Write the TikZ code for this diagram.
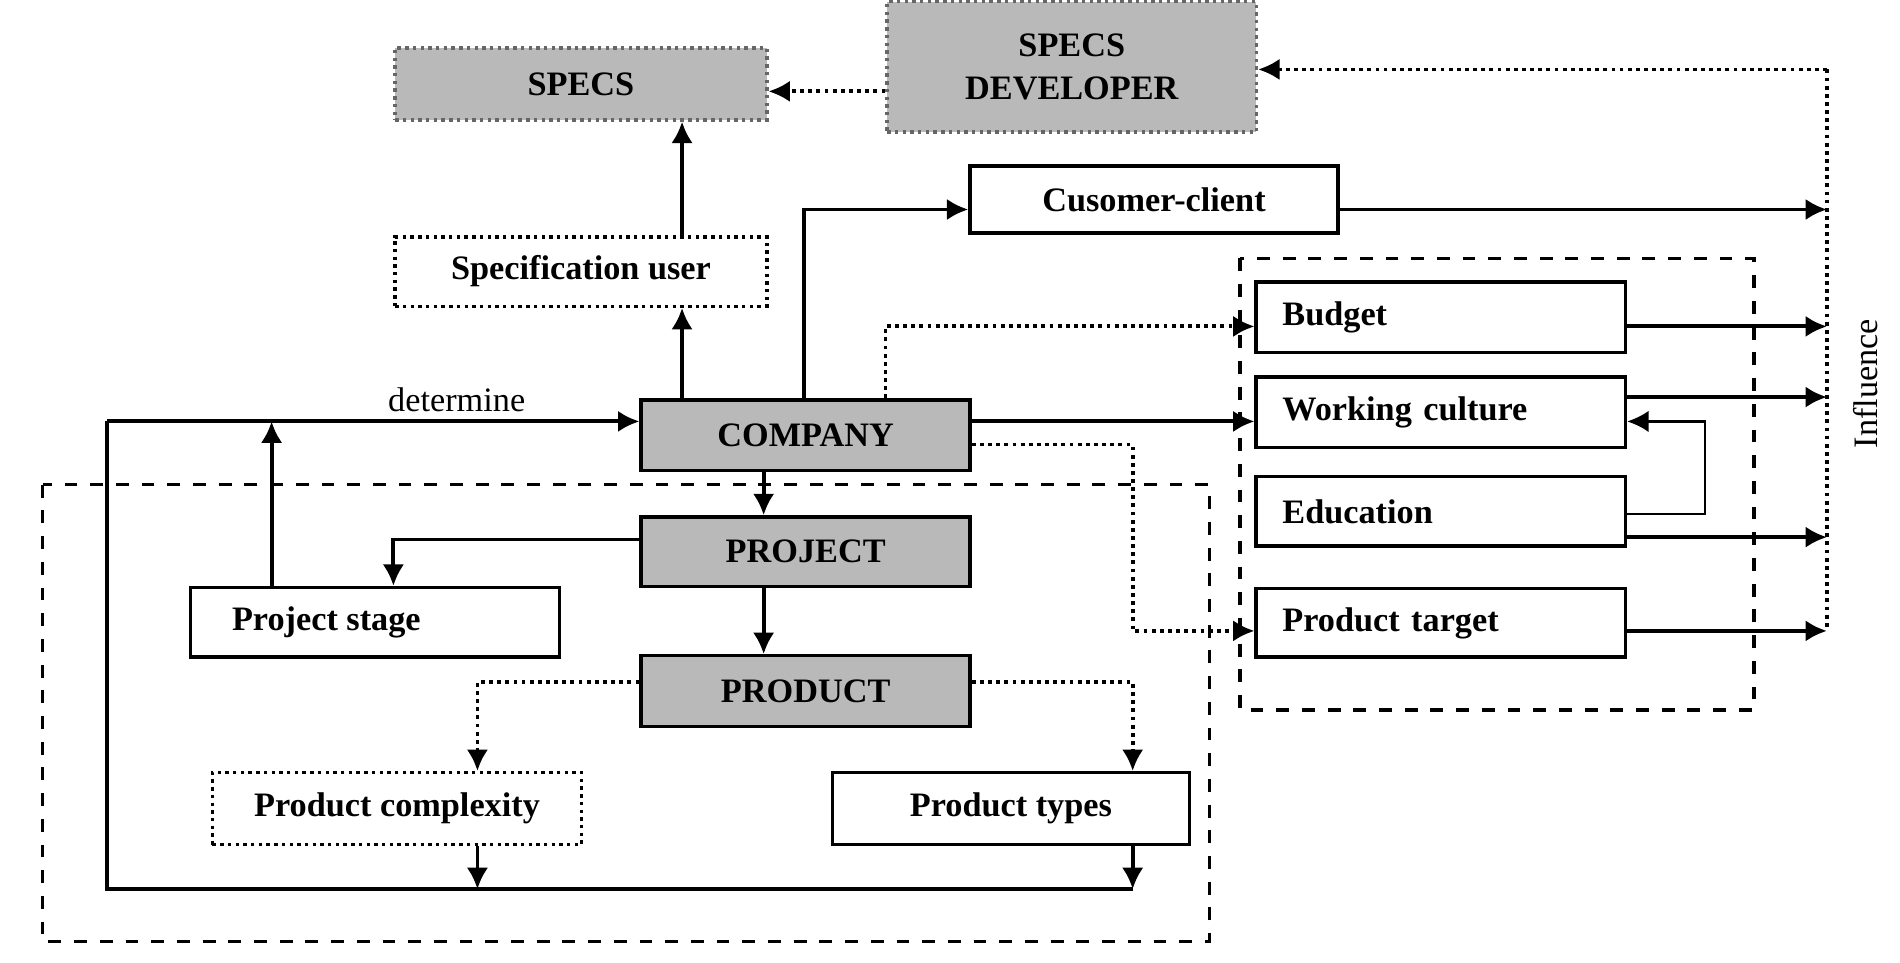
\documentclass[tikz,border=0pt]{standalone}
\usepackage{fontspec}
\setmainfont{Liberation Serif}
\usetikzlibrary{arrows.meta}
\begin{document}
\begin{tikzpicture}
            [x=0.01cm,y=-0.01cm,
             box/.style={draw,shape=rectangle,thick,inner sep=0,anchor=north west,font=\fontsize{8}{10}\selectfont\bfseries},
             grey/.style={box,fill=gray!55,draw=gray!80!black,densely dotted},
             every path/.style={line width=0.9pt,black},
             arr/.style={-{Latex[length=5pt,width=5pt]}}]

            \useasboundingbox (0,0) rectangle (1560,790);

            % frames
            \draw[dashed,thick] (35,398) rectangle (993,773);
            \draw[dashed,thick] (1018,212) rectangle (1440,583);

            \node[grey,minimum width=3.05cm,minimum height=0.59cm] (specs) at (323,38) {SPECS};
            \node[grey,minimum width=3.03cm,minimum height=1.07cm,align=center] (dev) at (727,0) {SPECS\\DEVELOPER};
            \node[box,densely dotted,minimum width=3.05cm,minimum height=0.57cm] (user) at (323,193) {Specification user};
            \node[box,minimum width=3.02cm,minimum height=0.55cm] (client) at (795,135) {Cusomer-client};
            \node[grey,solid,draw=black,minimum width=2.7cm,minimum height=0.58cm] (company) at (525,327) {COMPANY};
            \node[grey,solid,draw=black,minimum width=2.7cm,minimum height=0.57cm] (project) at (525,423) {PROJECT};
            \node[grey,solid,draw=black,minimum width=2.7cm,minimum height=0.58cm] (product) at (525,537) {PRODUCT};
            \node[box,minimum width=3.03cm,minimum height=0.57cm] (stage) at (155,481) {\hspace*{-0.8cm}Project stage};
            \node[box,densely dotted,minimum width=3.03cm,minimum height=0.59cm] (complex) at (173,633) {Product complexity};
            \node[box,minimum width=2.93cm,minimum height=0.59cm] (types) at (682,633) {Product types};

            \node[box,minimum width=3.03cm,minimum height=0.58cm,text width=2.6cm] (budget) at (1030,230) {Budget};
            \node[box,minimum width=3.03cm,minimum height=0.58cm,text width=2.6cm] (culture) at (1030,308) {Working culture};
            \node[box,minimum width=3.03cm,minimum height=0.57cm,text width=2.6cm] (edu) at (1030,390) {Education};
            \node[box,minimum width=3.03cm,minimum height=0.56cm,text width=2.6cm] (target) at (1030,482) {Product target};

            \node[font=\fontsize{8}{10}\selectfont] (det) at (375,328) {determine};
            \node[font=\fontsize{8}{10}\selectfont,rotate=90] (infl) at (1532,315) {Influence};

            \coordinate (top) at (1500,57);
            \coordinate (bot) at (1500,518);
            \coordinate (left) at (88,346);
            \coordinate (base) at (930,730);

            \draw[densely dotted] (top) -- (bot);
            \draw[arr,densely dotted] (top) -- (dev.east |- top);
            \draw[arr,densely dotted] (dev.west |- 0,75) -- (specs.east |- 0,75);
            \draw[arr] (user.north -| 560,0) -- (specs.south -| 560,0);
            \draw[arr] (company.north -| 560,0) -- (user.south -| 560,0);
            \draw[arr] (company.north -| 660,0) |- (client.west |- 0,172);
            \draw[arr] (client.east |- 0,172) -- (1500,172);
            \draw[arr,densely dotted] (company.north -| 727,0) |- (budget.west |- 0,268);
            \draw[arr] (company.east |- 0,346) -- (culture.west |- 0,346);
            \draw[arr,densely dotted] (company.east |- 0,365) -| (930,518) -- (target.west |- 0,518);
            \draw[arr] (budget.east |- 0,268) -- (1500,268);
            \draw[arr] (culture.east |- 0,326) -- (1500,326);
            \draw[arr] (edu.east |- 0,441) -- (1500,441);
            \draw[arr] (target.east |- 0,518) -- (bot);
            \draw[arr,line width=0.6pt] (edu.east |- 0,422) -| (1400,346) -- (culture.east |- 0,346);

            \draw[arr] (left) -- (company.west |- left);
            \draw (left) |- (base);
            \draw[arr] (stage.north -| 223,0) -- (223,346);
            \draw[arr] (company.south -| 627,0) -- (project.north -| 627,0);
            \draw[arr] (project.west |- 0,443) -| (stage.north -| 323,0);
            \draw[arr] (project.south -| 627,0) -- (product.north -| 627,0);
            \draw[arr,densely dotted] (product.west |- 0,560) -| (complex.north -| 392,0);
            \draw[arr,densely dotted] (product.east |- 0,560) -| (types.north -| 930,0);
            \draw[arr] (complex.south -| 392,0) -- (392,730);
            \draw[arr] (types.south -| 930,0) -- (base);
          \end{tikzpicture}
\end{document}
